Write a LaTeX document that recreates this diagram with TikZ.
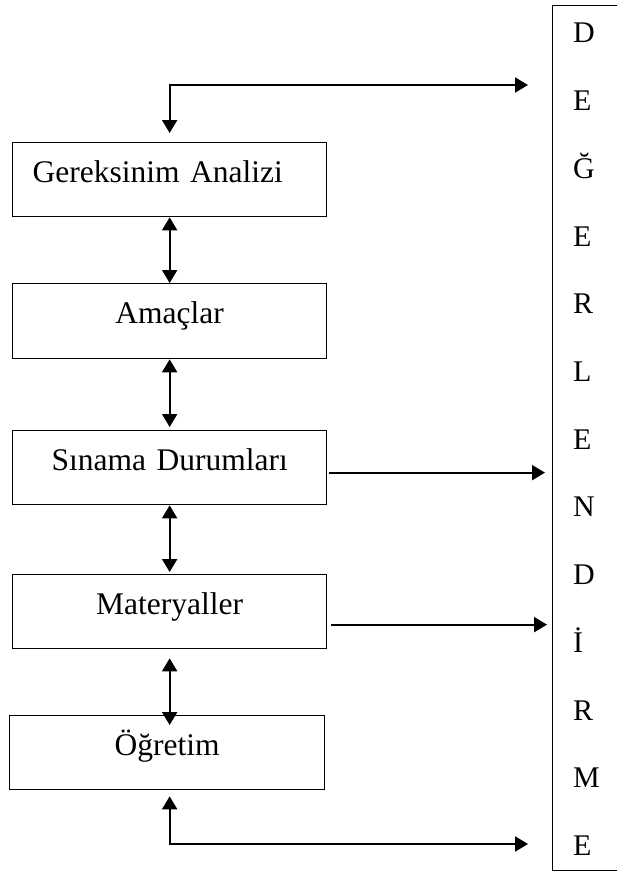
\documentclass[tikz,border=0pt]{standalone}
\usepackage{fontspec}
\setmainfont{Liberation Serif}
\usetikzlibrary{arrows.meta}
\begin{document}
\begin{tikzpicture}[x=1pt,y=-1pt,
  box/.style={draw,line width=1.3pt,minimum width=314pt,minimum height=74pt,inner sep=0pt,
    anchor=north west,text width=314pt,align=center,text height=40pt,text depth=34pt,
    font=\fontsize{31.5}{36}\selectfont},
  arr/.style={line width=2pt,-{Triangle[length=13pt,width=15pt]}},
  dbl/.style={line width=2pt,{Triangle[length=13pt,width=15pt]}-{Triangle[length=13pt,width=15pt]}},
  letter/.style={font=\fontsize{30}{34}\selectfont,anchor=base west,inner sep=0pt}]
\useasboundingbox (0,0) rectangle (617,875);
\fill[white] (0,0) rectangle (617,875);

\node[box,text width=274pt,inner xsep=20pt,align=left] (g) at (12,142) {Gereksinim Analizi};
\node[box,minimum height=75pt,text depth=35pt] (a) at (12,283) {Amaçlar};
\node[box] (s) at (12,430) {Sınama Durumları};
\node[box] (m) at (12,574) {Materyaller};
\node[box,minimum width=315pt,text width=315pt] (o) at (9,715) {Öğretim};

\begin{scope}
\clip (0,0) rectangle (617,875);
\node[draw,line width=1.3pt,minimum width=100pt,minimum height=865pt,anchor=north west,inner sep=0pt] (deg) at (552,5) {};
\end{scope}

\foreach \t [count=\i] in {D,E,Ğ,E,R,L,E,N,D,İ,R,M,E}
  \node[letter] (l\i) at (573,{43+67.7*(\i-1)}) {\t};

\coordinate (topR) at (528,85);
\coordinate (botR) at (528,844);

\draw[dbl] ([yshift=9pt]g.north) |- (topR);
\draw[dbl] (g.south) -- (a.north);
\draw[dbl,shorten >=3pt] (a.south) -- (s.north);
\draw[dbl,shorten >=2pt] (s.south) -- (m.north);
\draw[dbl,shorten <=9pt,shorten >=-10pt] (m.south) -- (m.south |- o.north);
\draw[dbl] ([yshift=-6pt]o.south -| m.south) |- (botR);

\draw[arr,shorten >=7pt] ([xshift=2pt,yshift=-5pt]s.east) -- ([yshift=-5pt]s.east -| deg.west);
\draw[arr,shorten >=5pt] ([xshift=4pt,yshift=-13pt]m.east) -- ([yshift=-13pt]m.east -| deg.west);
\end{tikzpicture}
\end{document}
